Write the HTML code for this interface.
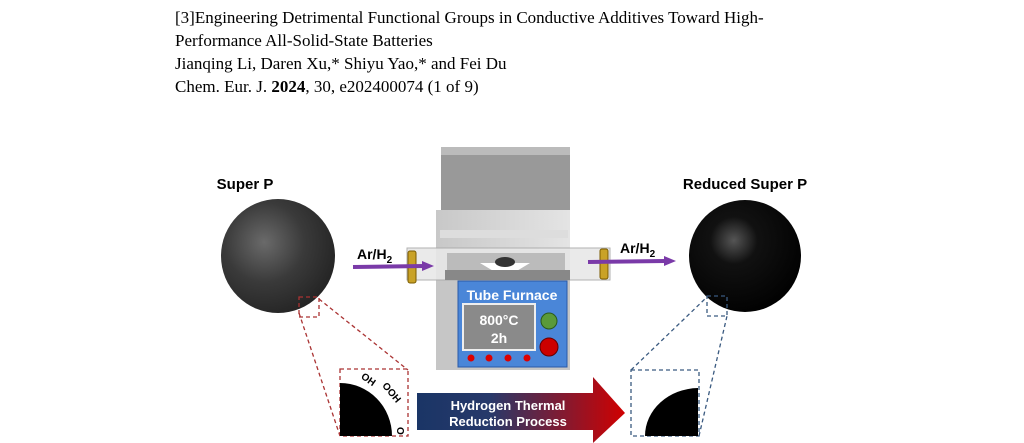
<!DOCTYPE html>
<html><head><style>
body{margin:0;width:1024px;height:443px;background:#fff;overflow:hidden;position:relative}
.t{position:absolute;left:175px;font-family:"Liberation Serif",serif;font-size:17px;line-height:23px;color:#000;top:6px}
svg{position:absolute;left:0;top:0}
</style></head><body>
<div class="t">[3]Engineering Detrimental Functional Groups in Conductive Additives Toward High-<br>Performance All-Solid-State Batteries<br>Jianqing Li, Daren Xu,* Shiyu Yao,* and Fei Du<br>Chem. Eur. J. <b>2024</b>, 30, e202400074 (1 of 9)</div>
<svg width="1024" height="443" font-family="Liberation Sans, sans-serif">
<defs>
<radialGradient id="g1" cx="0.38" cy="0.38" r="0.7"><stop offset="0" stop-color="#6a6a6a"/><stop offset="0.5" stop-color="#3a3a3a"/><stop offset="1" stop-color="#222"/></radialGradient>
<radialGradient id="g2" cx="0.4" cy="0.36" r="0.7"><stop offset="0" stop-color="#555"/><stop offset="0.3" stop-color="#111"/><stop offset="1" stop-color="#000"/></radialGradient>
<linearGradient id="ar" x1="0" x2="1"><stop offset="0" stop-color="#1a3566"/><stop offset="0.35" stop-color="#27396a"/><stop offset="1" stop-color="#d00000"/></linearGradient>
<linearGradient id="fb" x1="0" x2="1"><stop offset="0" stop-color="#c8c8c8"/><stop offset="1" stop-color="#e4e4e4"/></linearGradient>
</defs>
<text x="245" y="189" font-size="15" font-weight="bold" text-anchor="middle">Super P</text>
<text x="745" y="189" font-size="15" font-weight="bold" text-anchor="middle">Reduced Super P</text>
<circle cx="278" cy="256" r="57" fill="url(#g1)"/>
<circle cx="745" cy="256" r="56" fill="url(#g2)"/>
<rect x="441" y="147" width="129" height="63" fill="#999"/>
<rect x="441" y="147" width="129" height="8" fill="#bbb"/>
<rect x="436" y="210" width="134" height="40" fill="url(#fb)"/>
<rect x="440" y="230" width="128" height="8" fill="#ddd"/>
<rect x="436" y="250" width="134" height="120" fill="#c6c6c6"/>
<rect x="407" y="248" width="203" height="32" fill="#e8e8e8" stroke="#aaa" opacity="0.9"/>
<rect x="447" y="253" width="118" height="18" fill="#bbb"/>
<polygon points="480,263 530,263 515,272 495,272" fill="#fff"/>
<ellipse cx="505" cy="262" rx="10" ry="5" fill="#333"/>
<rect x="445" y="270" width="125" height="10" fill="#888"/>
<rect x="408" y="251" width="8" height="32" rx="2" fill="#c9a227" stroke="#7a5b00"/>
<rect x="600" y="249" width="8" height="30" rx="2" fill="#c9a227" stroke="#7a5b00"/>
<rect x="458" y="281" width="109" height="86" fill="#4a86d8" stroke="#2a5aa8"/>
<text x="512" y="300" font-size="14" font-weight="bold" fill="#fff" text-anchor="middle">Tube Furnace</text>
<rect x="463" y="304" width="72" height="46" fill="#8a8a8a" stroke="#eee" stroke-width="2"/>
<text x="499" y="325" font-size="14" font-weight="bold" fill="#fff" text-anchor="middle">800°C</text>
<text x="499" y="343" font-size="14" font-weight="bold" fill="#fff" text-anchor="middle">2h</text>
<circle cx="549" cy="321" r="8" fill="#5a9a3a" stroke="#2a5a1a"/>
<circle cx="549" cy="347" r="9" fill="#c00" stroke="#600"/>
<g fill="#d00"><circle cx="471" cy="358" r="3.5"/><circle cx="489" cy="358" r="3.5"/><circle cx="508" cy="358" r="3.5"/><circle cx="527" cy="358" r="3.5"/></g>
<line x1="353" y1="267" x2="424" y2="266" stroke="#7a3aa8" stroke-width="4"/>
<polygon points="422,261 434,266 422,271" fill="#7a3aa8"/>
<line x1="588" y1="262" x2="666" y2="261" stroke="#7a3aa8" stroke-width="4"/>
<polygon points="664,256 676,261 664,266" fill="#7a3aa8"/>
<text x="357" y="259" font-size="14" font-weight="bold">Ar/H<tspan font-size="10" dy="4">2</tspan></text>
<text x="620" y="253" font-size="14" font-weight="bold">Ar/H<tspan font-size="10" dy="4">2</tspan></text>
<g fill="none" stroke="#a33" stroke-width="1.3" stroke-dasharray="4,3">
<rect x="299" y="297" width="20" height="20"/>
<rect x="340" y="369" width="68" height="67"/>
<line x1="299" y1="313" x2="340" y2="436"/><line x1="319" y1="299" x2="408" y2="370"/>
</g>
<g fill="none" stroke="#3a5a80" stroke-width="1.3" stroke-dasharray="4,3">
<rect x="707" y="296" width="20" height="20"/>
<rect x="631" y="370" width="68" height="66"/>
<line x1="631" y1="370" x2="707" y2="297"/><line x1="699" y1="436" x2="727" y2="316"/>
</g>
<path d="M340,436 V383 A52,53 0 0 1 392,436 Z" fill="#000"/>
<path d="M698,436 V388 A54,48 0 0 0 645,436 Z" fill="#000"/>
<g font-size="10" font-weight="bold">
<text x="360" y="379" transform="rotate(35 362 379)">OH</text>
<text x="378" y="386" transform="rotate(50 380 390)">OOH</text>
<text x="398" y="434" transform="rotate(90 401 430)">O</text>
</g>
<polygon points="417,393 593,393 593,377 625,413 593,443 593,430 417,430" fill="url(#ar)"/>
<text x="508" y="410" font-size="13" font-weight="bold" fill="#fff" text-anchor="middle">Hydrogen Thermal</text>
<text x="508" y="426" font-size="13" font-weight="bold" fill="#fff" text-anchor="middle">Reduction Process</text>
</svg>
</body></html>
